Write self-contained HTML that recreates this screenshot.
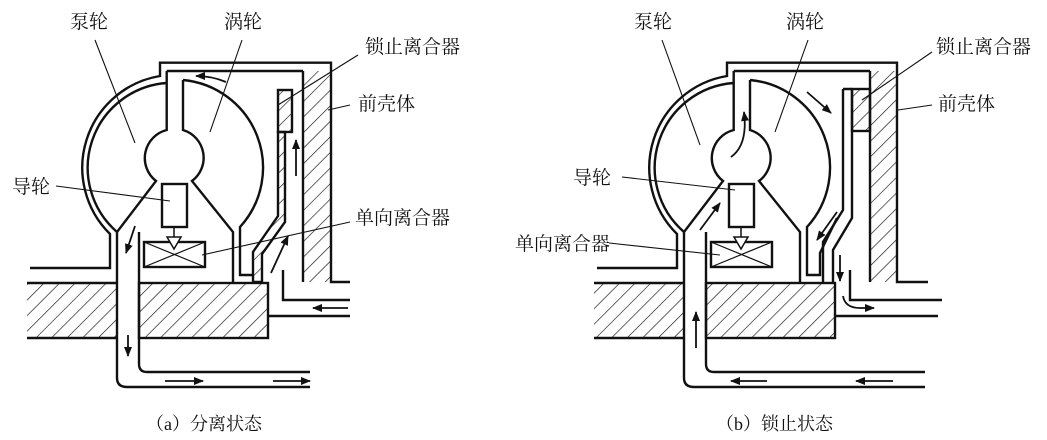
<!DOCTYPE html>
<html><head><meta charset="utf-8"><style>
body{margin:0;background:#fff;width:1047px;height:440px;overflow:hidden}
svg{display:block}
text{font-family:"Liberation Serif","Noto Serif CJK SC","Noto Sans CJK SC",serif;font-size:19px;fill:#111}
.cap{font-size:18px}
</style></head><body>
<svg width="1047" height="440" viewBox="0 0 1047 440" xmlns="http://www.w3.org/2000/svg">
<defs>
<pattern id="h" patternUnits="userSpaceOnUse" width="11" height="11" patternTransform="rotate(45)">
<line x1="0" y1="0" x2="0" y2="11" stroke="#111" stroke-width="1.3"/>
</pattern>
<marker id="a" markerWidth="10" markerHeight="8" refX="9" refY="4" orient="auto" markerUnits="userSpaceOnUse">
<path d="M0,0 L10,4 L0,8 Z" fill="#111"/></marker>
</defs>
<g fill="none" stroke="#111" stroke-width="2.4" stroke-linejoin="miter">
<!-- LEFT -->
<rect x="27" y="283" width="90" height="55" fill="url(#h)" stroke="none"/>
<rect x="139" y="283" width="129" height="55" fill="url(#h)"/>
<path d="M27,283 H117 M27,338 H117"/>
<rect x="303" y="71" width="28" height="211" fill="url(#h)" stroke="none"/>
<path d="M30,268 H110 V234 A93,93 0 0 1 160,76 V62.7 H331 V282 H350 M303,71 V282"/>
<path d="M166.7,71 H303"/>
<path d="M117,232 A85,85 0 0 1 166.7,83"/>
<path d="M166.7,71 V130 A29,29 0 0 0 156,181 L117,232 V378 Q117,387 127,387 H310"/>
<path d="M139,232 V364 Q139,372 147,372 H310"/>
<path d="M183,80 V130 A29,29 0 0 1 192,181 L233,232 V282"/>
<path d="M183,80 A88,88 0 0 1 240,227 V275 H253"/>
<rect x="278" y="90" width="14" height="42" fill="url(#h)"/>
<path d="M278,132 H285 V222 L262,254 V282 H253 V252 L278,216 Z" fill="url(#h)"/>
<rect x="162" y="184" width="25" height="43"/>
<rect x="144" y="242" width="61" height="25"/>
<path d="M144,242 L205,267 M205,242 L144,267" stroke-width="1.2"/>
<path d="M174,227 V237 M167,237 H181 L174,249 Z" stroke-width="1.5" fill="#fff"/>
<path d="M268,316 H350 M283,270 V300 H350"/>
<!-- RIGHT -->
<rect x="594" y="283" width="90" height="55" fill="url(#h)" stroke="none"/>
<rect x="706" y="283" width="129" height="55" fill="url(#h)"/>
<path d="M594,283 H684 M594,338 H684"/>
<rect x="870" y="71" width="27" height="211" fill="url(#h)" stroke="none"/>
<path d="M597,268 H677 V234 A93,93 0 0 1 727,76 V62.7 H897 V282 H928 M870,71 V282"/>
<path d="M733.7,71 H870"/>
<path d="M684,232 A85,85 0 0 1 733.7,83"/>
<path d="M733.7,71 V130 A29,29 0 0 0 723,181 L684,232 V378 Q684,387 694,387 H925"/>
<path d="M706,232 V364 Q706,372 714,372 H925"/>
<path d="M750,80 V130 A29,29 0 0 1 759,181 L800,232 V282"/>
<path d="M750,80 A88,88 0 0 1 807,227 V275 H820 V253 L837,218"/>
<path d="M843,89 H852 M843,89 V210 L823,242 V282 M852,89 V218 L833,250 V282"/>
<rect x="852" y="89" width="18" height="42" fill="url(#h)"/>
<rect x="729" y="184" width="25" height="43"/>
<rect x="711" y="242" width="61" height="25"/>
<path d="M711,242 L772,267 M772,242 L711,267" stroke-width="1.2"/>
<path d="M741,227 V237 M734,237 H748 L741,249 Z" stroke-width="1.5" fill="#fff"/>
<path d="M835,316 H938 M850,270 V300 H942"/>
</g>
<!-- arrows -->
<g fill="none" stroke="#111" stroke-width="1.8" marker-end="url(#a)">
<path d="M226,82 Q212,76 196,76"/>
<path d="M296,176 V140"/>
<path d="M271,273 L288,236"/>
<path d="M135,226 L126,253"/>
<path d="M128,335 V356"/>
<path d="M165,381 H203"/>
<path d="M273,381 H310"/>
<path d="M348,308 H313"/>
<path d="M731,157 Q748,145 744,112"/>
<path d="M700,230 L720,203"/>
<path d="M807,92 L831,113"/>
<path d="M837,212 L817,240"/>
<path d="M840,255 V281"/>
<path d="M843,296 Q845,308 860,308 H874"/>
<path d="M696,348 V312"/>
<path d="M767,381 H731"/>
<path d="M893,381 H856"/>
</g>
<!-- leaders -->
<g stroke="#111" stroke-width="1.1">
<line x1="95" y1="40" x2="135" y2="143"/>
<line x1="242" y1="40" x2="210" y2="132"/>
<line x1="358" y1="55" x2="278" y2="105"/>
<line x1="350" y1="105" x2="328" y2="110"/>
<line x1="56" y1="186" x2="170" y2="201"/>
<line x1="350" y1="222" x2="202" y2="255"/>
<line x1="662" y1="40" x2="700" y2="145"/>
<line x1="808" y1="40" x2="775" y2="132"/>
<line x1="932" y1="52" x2="862" y2="100"/>
<line x1="932" y1="105" x2="898" y2="110"/>
<line x1="622" y1="177" x2="735" y2="190"/>
<line x1="609" y1="243" x2="720" y2="255"/>
</g>
<text x="70" y="28">泵轮</text>
<text x="224" y="28">涡轮</text>
<text x="365" y="53">锁止离合器</text>
<text x="358" y="110">前壳体</text>
<text x="12" y="193">导轮</text>
<text x="355" y="224">单向离合器</text>
<text x="634" y="28">泵轮</text>
<text x="786" y="28">涡轮</text>
<text x="936" y="53">锁止离合器</text>
<text x="938" y="110">前壳体</text>
<text x="573" y="184">导轮</text>
<text x="515" y="250">单向离合器</text>
<text class="cap" x="146" y="430">（a）分离状态</text>
<text class="cap" x="716" y="430">（b）锁止状态</text>
</svg>
</body></html>
